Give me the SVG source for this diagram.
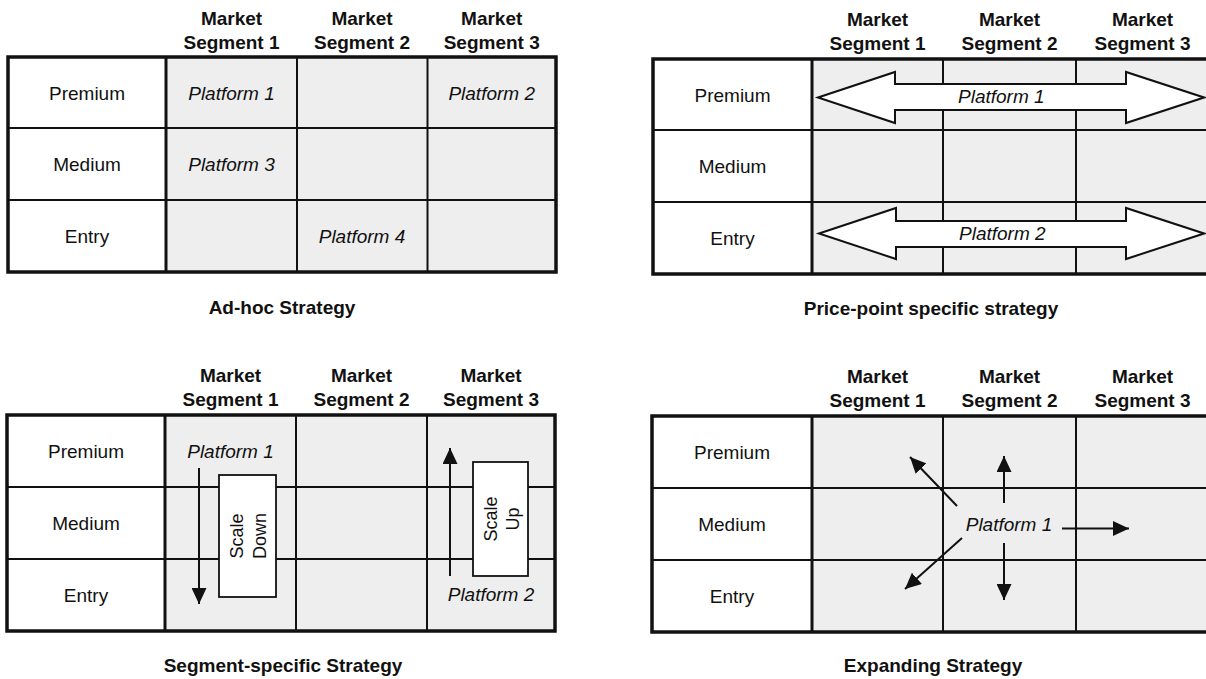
<svg xmlns="http://www.w3.org/2000/svg" width="1206" height="679" viewBox="0 0 1206 679">
  <style>
    .lbl { fill: #ffffff; }
    .cell { fill: #eeeeee; }
    .outer { fill: none; stroke: #111; stroke-width: 3.5; }
    .div { stroke: #111; stroke-width: 3; }
    .ln { stroke: #111; stroke-width: 2; }
    .hdr { font-family: "Liberation Sans", Arial, sans-serif; font-size: 19px; font-weight: bold; fill: #111; text-anchor: middle; }
    .row { font-family: "Liberation Sans", Arial, sans-serif; font-size: 19px; fill: #111; text-anchor: middle; }
    .plat { font-family: "Liberation Sans", Arial, sans-serif; font-size: 19px; font-style: italic; fill: #111; }
    .mid { text-anchor: middle; }
    .ttl { font-family: "Liberation Sans", Arial, sans-serif; font-size: 19px; font-weight: bold; fill: #111; text-anchor: middle; }
    .rot { font-family: "Liberation Sans", Arial, sans-serif; font-size: 18px; fill: #111; text-anchor: middle; }
    .box { fill: #ffffff; stroke: #111; stroke-width: 1.8; }
    .big { fill: #ffffff; stroke: #111; stroke-width: 2; stroke-linejoin: miter; }
    .arr { stroke: #111; stroke-width: 2; fill: none; marker-end: url(#head); }
  </style>
  <defs>
    <marker id="head" viewBox="0 0 16 15" refX="16" refY="7.5" markerWidth="16" markerHeight="15" markerUnits="userSpaceOnUse" orient="auto">
      <path d="M0,0 L16,7.5 L0,15 z" fill="#111"/>
    </marker>
  </defs>

  <!-- Panel 1: ad-hoc strategy -->
  <g id="panel-adhoc">
    <g id="adhoc-grid">
      <rect class="lbl" x="8" y="57" width="158" height="215"/>
      <rect class="cell" x="166" y="57" width="390" height="215"/>
      <line class="ln" x1="8" y1="128" x2="556" y2="128"/>
      <line class="ln" x1="8" y1="200" x2="556" y2="200"/>
      <line class="ln" x1="297" y1="57" x2="297" y2="272"/>
      <line class="ln" x1="427.5" y1="57" x2="427.5" y2="272"/>
      <line class="div" x1="166" y1="57" x2="166" y2="272"/>
      <rect class="outer" x="8" y="57" width="548" height="215"/>
    </g>
    <g id="adhoc-headers">
      <text class="hdr" x="231.5" y="25">Market</text>
      <text class="hdr" x="231.5" y="49">Segment 1</text>
      <text class="hdr" x="362" y="25">Market</text>
      <text class="hdr" x="362" y="49">Segment 2</text>
      <text class="hdr" x="491.7" y="25">Market</text>
      <text class="hdr" x="491.7" y="49">Segment 3</text>
    </g>
    <g id="adhoc-rows">
      <text class="row" x="87" y="99.5">Premium</text>
      <text class="row" x="87" y="171">Medium</text>
      <text class="row" x="87" y="243">Entry</text>
    </g>
    <g id="adhoc-platform-1"><text class="plat mid" x="231.5" y="100">Platform 1</text></g>
    <g id="adhoc-platform-2"><text class="plat mid" x="491.7" y="100">Platform 2</text></g>
    <g id="adhoc-platform-3"><text class="plat mid" x="231.5" y="171">Platform 3</text></g>
    <g id="adhoc-platform-4"><text class="plat mid" x="362" y="243">Platform 4</text></g>
    <text class="ttl" x="282" y="314">Ad-hoc Strategy</text>
  </g>

  <!-- Panel 2: price-point specific strategy -->
  <g id="panel-pricepoint">
    <g id="pricepoint-grid">
      <rect class="lbl" x="653" y="59" width="159" height="215"/>
      <rect class="cell" x="812" y="59" width="397" height="215"/>
      <line class="ln" x1="653" y1="130" x2="1209" y2="130"/>
      <line class="ln" x1="653" y1="202" x2="1209" y2="202"/>
      <line class="ln" x1="943" y1="59" x2="943" y2="274"/>
      <line class="ln" x1="1076" y1="59" x2="1076" y2="274"/>
      <line class="div" x1="812" y1="59" x2="812" y2="274"/>
      <rect class="outer" x="653" y="59" width="556" height="215"/>
    </g>
    <g id="pricepoint-headers">
      <text class="hdr" x="877.5" y="26">Market</text>
      <text class="hdr" x="877.5" y="50">Segment 1</text>
      <text class="hdr" x="1009.5" y="26">Market</text>
      <text class="hdr" x="1009.5" y="50">Segment 2</text>
      <text class="hdr" x="1142.5" y="26">Market</text>
      <text class="hdr" x="1142.5" y="50">Segment 3</text>
    </g>
    <g id="pricepoint-rows">
      <text class="row" x="732.5" y="101.5">Premium</text>
      <text class="row" x="732.5" y="173">Medium</text>
      <text class="row" x="732.5" y="245">Entry</text>
    </g>
    <g id="pricepoint-platform-1">
      <path class="big" d="M818,97.5 L895,72 L895,84 L1126,84 L1126,72 L1204,97.5 L1126,123 L1126,110 L895,110 L895,123 Z"/>
      <text class="plat" x="958" y="103">Platform 1</text>
    </g>
    <g id="pricepoint-platform-2">
      <path class="big" d="M819,233.5 L896,208 L896,221 L1126,221 L1126,208 L1204,233.5 L1126,259 L1126,247 L896,247 L896,259 Z"/>
      <text class="plat" x="959" y="239.5">Platform 2</text>
    </g>
    <text class="ttl" x="931" y="315">Price-point specific strategy</text>
  </g>

  <!-- Panel 3: segment-specific strategy -->
  <g id="panel-segment">
    <g id="segment-grid">
      <rect class="lbl" x="7" y="415" width="158" height="216"/>
      <rect class="cell" x="165" y="415" width="390" height="216"/>
      <line class="ln" x1="7" y1="487" x2="555" y2="487"/>
      <line class="ln" x1="7" y1="559" x2="555" y2="559"/>
      <line class="ln" x1="296" y1="415" x2="296" y2="631"/>
      <line class="ln" x1="427" y1="415" x2="427" y2="631"/>
      <line class="div" x1="165" y1="415" x2="165" y2="631"/>
      <rect class="outer" x="7" y="415" width="548" height="216"/>
    </g>
    <g id="segment-headers">
      <text class="hdr" x="230.5" y="382">Market</text>
      <text class="hdr" x="230.5" y="406">Segment 1</text>
      <text class="hdr" x="361.5" y="382">Market</text>
      <text class="hdr" x="361.5" y="406">Segment 2</text>
      <text class="hdr" x="491" y="382">Market</text>
      <text class="hdr" x="491" y="406">Segment 3</text>
    </g>
    <g id="segment-rows">
      <text class="row" x="86" y="458">Premium</text>
      <text class="row" x="86" y="530">Medium</text>
      <text class="row" x="86" y="602">Entry</text>
    </g>
    <g id="segment-platform-1"><text class="plat mid" x="230.5" y="458">Platform 1</text></g>
    <g id="segment-platform-2"><text class="plat mid" x="491" y="601">Platform 2</text></g>
    <g id="scale-down">
      <rect class="box" x="219" y="475" width="57" height="122"/>
      <g transform="translate(247.5,536) rotate(-90)">
        <text class="rot" x="0" y="-4.2">Scale</text>
        <text class="rot" x="0" y="18.2">Down</text>
      </g>
    </g>
    <g id="scale-up">
      <rect class="box" x="473" y="462" width="55" height="114"/>
      <g transform="translate(500.5,519) rotate(-90)">
        <text class="rot" x="0" y="-3.8">Scale</text>
        <text class="rot" x="0" y="18.5">Up</text>
      </g>
    </g>
    <text class="ttl" x="283" y="672">Segment-specific Strategy</text>
  </g>

  <!-- Panel 4: expanding strategy -->
  <g id="panel-expanding">
    <g id="expanding-grid">
      <rect class="lbl" x="652" y="416" width="160" height="216"/>
      <rect class="cell" x="812" y="416" width="397" height="216"/>
      <line class="ln" x1="652" y1="488" x2="1209" y2="488"/>
      <line class="ln" x1="652" y1="560" x2="1209" y2="560"/>
      <line class="ln" x1="943" y1="416" x2="943" y2="632"/>
      <line class="ln" x1="1076" y1="416" x2="1076" y2="632"/>
      <line class="div" x1="812" y1="416" x2="812" y2="632"/>
      <rect class="outer" x="652" y="416" width="557" height="216"/>
    </g>
    <g id="expanding-headers">
      <text class="hdr" x="877.5" y="383">Market</text>
      <text class="hdr" x="877.5" y="407">Segment 1</text>
      <text class="hdr" x="1009.5" y="383">Market</text>
      <text class="hdr" x="1009.5" y="407">Segment 2</text>
      <text class="hdr" x="1142.5" y="383">Market</text>
      <text class="hdr" x="1142.5" y="407">Segment 3</text>
    </g>
    <g id="expanding-rows">
      <text class="row" x="732" y="459">Premium</text>
      <text class="row" x="732" y="531">Medium</text>
      <text class="row" x="732" y="603">Entry</text>
    </g>
    <g id="expanding-platform-1"><text class="plat mid" x="1009" y="531">Platform 1</text></g>
    <text class="ttl" x="933" y="672">Expanding Strategy</text>
  </g>

  <!-- Connectors: scale and expansion arrows -->
  <g id="connectors">
    <line class="arr" x1="199" y1="468" x2="199" y2="604"/>
    <line class="arr" x1="450" y1="576" x2="450" y2="448"/>
    <line class="arr" x1="957" y1="506" x2="910" y2="457"/>
    <line class="arr" x1="1004" y1="503" x2="1004" y2="456"/>
    <line class="arr" x1="1062" y1="528.5" x2="1129" y2="528.5"/>
    <line class="arr" x1="962" y1="538" x2="905" y2="589"/>
    <line class="arr" x1="1004" y1="543" x2="1004" y2="600"/>
  </g>
</svg>
